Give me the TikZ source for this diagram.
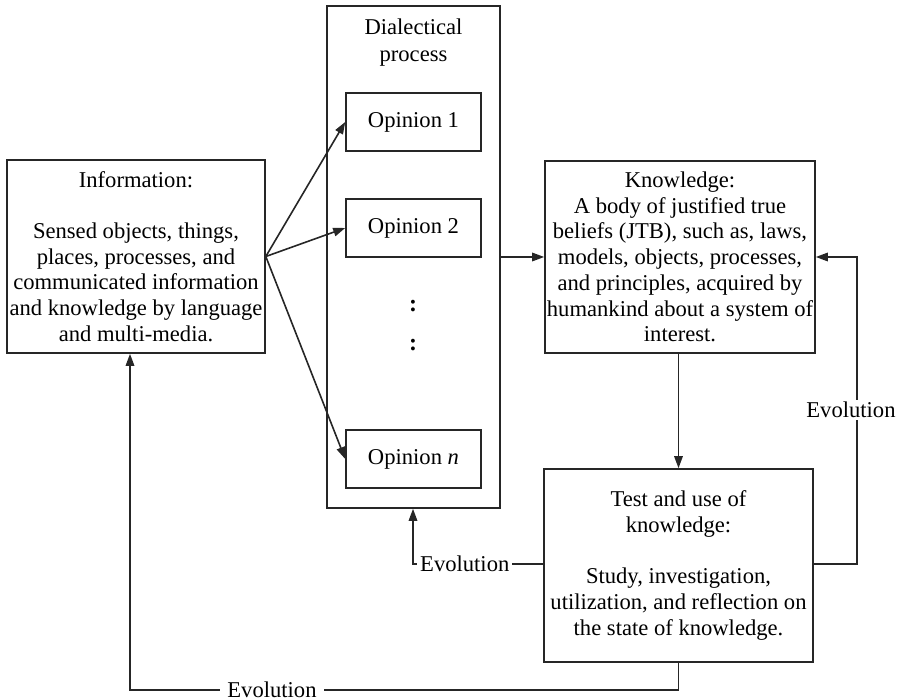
\documentclass[tikz,border=0pt]{standalone}
\usepackage{fontspec}
\setmainfont{Liberation Serif}
\usetikzlibrary{arrows.meta}
\begin{document}
\begin{tikzpicture}[x=1pt,y=-1pt,
  font=\fontsize{22.6}{25.7}\selectfont,
  box/.style={draw=black!85, line width=1.6pt, align=center, inner sep=0pt},
  link/.style={draw=black!85, line width=1.6pt, -{Triangle[length=12pt,width=8.5pt]}},
  evo/.style={fill=white, inner ysep=2pt}]

\useasboundingbox (0,0) rectangle (905,700);

% main blocks
\node[box, minimum width=258pt, minimum height=193pt] (info) at (136,256.5)
  {Information:\\[25.7pt] Sensed objects, things,\\ places, processes, and\\ communicated information\\ and knowledge by language\\ and multi-media.};

\node[box, minimum width=173pt, minimum height=502pt] (dial) at (413.5,257) {};
\node[align=center, inner sep=0pt] (dialtitle) at (413.5,43) {Dialectical\\[1.3pt]process};

\node[box, minimum width=135pt, minimum height=58pt] (op1) at (413.5,122) {Opinion 1};
\node[box, minimum width=135pt, minimum height=58pt] (op2) at (413.5,228) {Opinion 2};
\node[box, minimum width=135pt, minimum height=58pt] (opn) at (413.5,459) {Opinion \textit{n}};
\node[inner sep=0pt, font=\fontsize{24}{26}\bfseries] (dotsa) at (413,306) {:};
\node[inner sep=0pt, font=\fontsize{24}{26}\bfseries] (dotsb) at (413,345) {:};

\node[box, minimum width=270pt, minimum height=192pt] (know) at (680,257)
  {Knowledge:\\ A body of justified true\\ beliefs (JTB), such as, laws,\\ models, objects, processes,\\ and principles, acquired by\\ humankind about a system of\\ interest.};

\node[box, minimum width=269pt, minimum height=193pt] (test) at (678.5,565.5)
  {Test and use of\\ knowledge:\\[25.7pt] Study, investigation,\\ utilization, and reflection on\\ the state of knowledge.};

% information feeds the opinions
\draw[link] (info.east) -- (op1.west);
\draw[link] (info.east) -- (op2.west);
\draw[link] (info.east) -- (opn.west);

% dialectical process yields knowledge, which is tested
\draw[link] (dial.east |- 0,257) -- (know.west |- 0,257);
\draw[link] (know.south -| 678.5,0) -- (test.north);

% evolution loops
\coordinate (rc) at (857,564);
\coordinate (rt) at (857,257);
\draw[link] (test.east |- rc) -- (rc) -- (rt) -- (know.east |- rt);
\node[evo, inner xsep=2pt] (evoright) at (851,410) {Evolution};

\coordinate (mc) at (413,564);
\draw[link] (test.west |- mc) -- (mc) -- (dial.south -| mc);
\node[evo, anchor=west, inner xsep=3pt] (evomid) at (417,564) {Evolution};

\coordinate (bc) at (678.5,690);
\coordinate (bl) at (130,690);
\draw[link] (test.south) -- (bc) -- (bl) -- (info.south -| bl);
\node[evo, inner xsep=7pt] (evobottom) at (272,690) {Evolution};

\end{tikzpicture}
\end{document}
